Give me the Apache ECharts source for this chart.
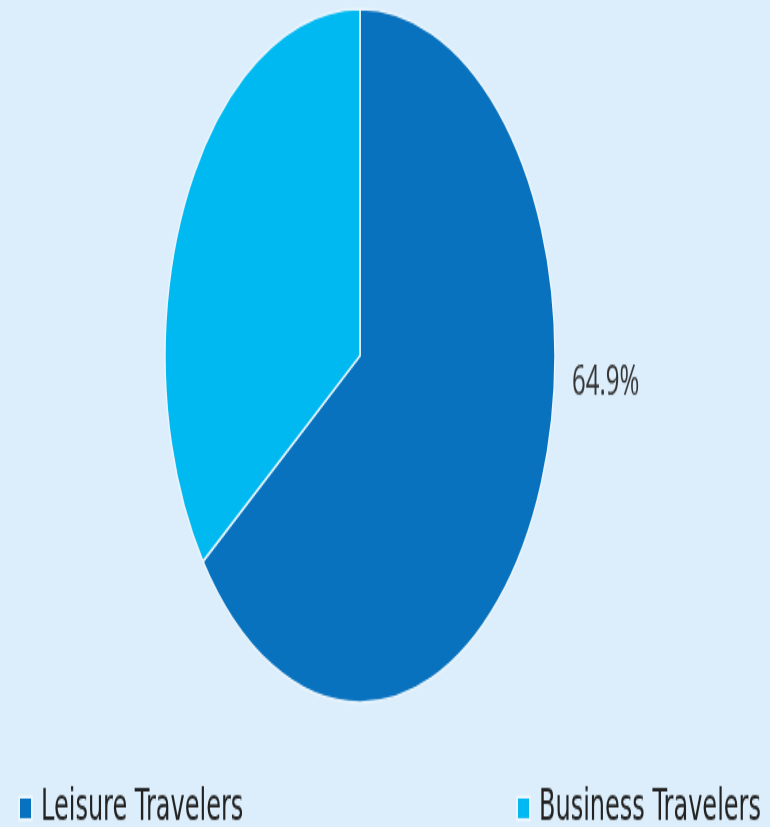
<!DOCTYPE html>
<html>
<head>
<meta charset="utf-8">
<script src="https://cdn.jsdelivr.net/npm/echarts@6/dist/echarts.min.js"></script>
<style>
  html, body { margin: 0; padding: 0; background: #DCEEFB; overflow: hidden; }
  #wrap { width: 770px; height: 827px; overflow: hidden; }
  #chart { width: 770px; height: 465px; transform: scaleY(1.7785); transform-origin: 0 0; }
</style>
</head>
<body>
<div id="wrap"><div id="chart"></div></div>
<script>
const categories = ['Leisure Travelers', 'Business Travelers'];
const values = [64.9, 35.1];
const colors = ['#0872BF', '#00B9F1'];

const CX = 360, CY = 200, R = 195;

const legendText = { fontFamily: 'DejaVu Sans', fontSize: 24, color: '#222', padding: [0, 0, 0, 4] };

const chart = echarts.init(document.getElementById('chart'), null, { renderer: 'canvas' });
chart.setOption({
  backgroundColor: '#DCEEFB',
  animation: false,
  legend: [
    {
      data: [categories[0]], left: 18, top: 442.5, padding: 0, itemWidth: 13, itemHeight: 13,
      icon: 'rect', textStyle: legendText
    },
    {
      data: [categories[1]], left: 516, top: 442.5, padding: 0, itemWidth: 13, itemHeight: 13,
      icon: 'rect', textStyle: legendText
    }
  ],
  series: [{
    type: 'pie',
    center: [CX, CY],
    radius: R,
    startAngle: 90,
    clockwise: true,
    itemStyle: { borderColor: '#EAF5FD', borderWidth: 1.5 },
    label: {
      show: true,
      position: 'outside',
      formatter: (p) => p.value.toFixed(1) + '%',
      fontFamily: 'Open Sans', fontSize: 24, color: '#333'
    },
    labelLine: { show: false },
    labelLayout: (p) => p.dataIndex === 0 ? { x: CX + R + 17, y: CY + 15, align: 'left', verticalAlign: 'middle' } : {},
    data: categories.map((c, i) => ({
      name: c, value: values[i],
      itemStyle: { color: colors[i] },
      label: { show: i === 0 }
    }))
  }]
});
</script>
</body>
</html>
